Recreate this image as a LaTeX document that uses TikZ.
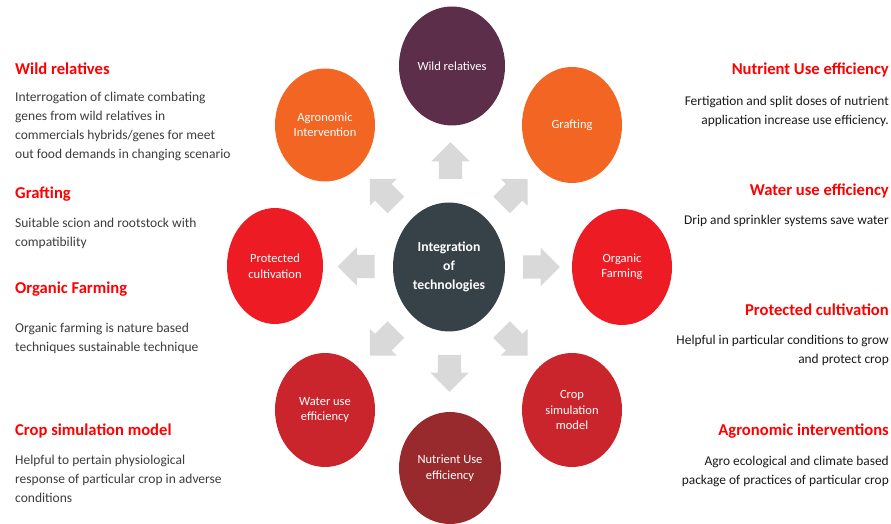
\documentclass[tikz,border=0pt]{standalone}
\usepackage{fontspec}
\setmainfont{Carlito}
\usepackage{xcolor}
\usetikzlibrary{shapes.geometric,shapes.arrows,calc}
\definecolor{techslate}{RGB}{55,65,72}
\definecolor{techplum}{RGB}{92,46,74}
\definecolor{techorange}{RGB}{242,101,34}
\definecolor{techred}{RGB}{237,28,36}
\definecolor{techdark}{RGB}{202,36,44}
\definecolor{techbrown}{RGB}{152,42,46}
\definecolor{techhead}{RGB}{255,0,0}
\definecolor{techgrey}{RGB}{217,217,217}
\definecolor{techtext}{RGB}{60,60,60}
\definecolor{techtextr}{RGB}{25,25,25}

\begin{document}
\begin{tikzpicture}[x=1pt,y=1pt,
    circ/.style={ellipse,inner sep=0,text=white,align=center,font=\fontsize{12.5}{15.5}\selectfont},
    blockarrow/.style={single arrow,fill=techgrey,draw=none,inner xsep=0,inner ysep=11.5pt,minimum height=37pt,single arrow head extend=7.5pt},
    headl/.style={anchor=base west,inner sep=0,text=techhead,font=\bfseries\fontsize{16.6}{19}\selectfont},
    headr/.style={anchor=base east,inner sep=0,text=techhead,font=\bfseries\fontsize{16.6}{19}\selectfont},
    bodyl/.style={anchor=north west,inner sep=0,align=left,text=techtext,font=\fontsize{13.5}{19}\selectfont},
    bodyr/.style={anchor=north east,inner sep=0,align=right,text=techtextr,font=\fontsize{13.4}{19}\selectfont}]
    \useasboundingbox (0,0) rectangle (891,524);

    % centre and the eight technologies
    \node[circ,fill=techslate,minimum width=112pt,minimum height=129pt,font=\bfseries\fontsize{13.7}{19}\selectfont] (centre) at (449,257) {Integration\\of\\technologies};
    \node[circ,fill=techplum,minimum width=106pt,minimum height=119pt] (wild) at (452,458) {Wild relatives};
    \node[circ,fill=techorange,minimum width=100pt,minimum height=113pt] (agro) at (325,399) {Agronomic\\Intervention};
    \node[circ,fill=techorange,minimum width=100pt,minimum height=116pt] (graft) at (572,399) {Grafting};
    \node[circ,fill=techred,minimum width=96pt,minimum height=116pt] (protect) at (275,258) {Protected\\cultivation};
    \node[circ,fill=techred,minimum width=100pt,minimum height=116pt] (organic) at (622,257) {Organic\\Farming};
    \node[circ,fill=techdark,minimum width=100pt,minimum height=114pt] (water) at (325,114) {Water use\\efficiency};
    \node[circ,fill=techdark,minimum width=100pt,minimum height=114pt] (cropsim) at (572,114) {Crop\\simulation\\model};
    \node[circ,fill=techbrown,minimum width=102pt,minimum height=112pt] (nutrient) at (450,56) {Nutrient Use\\efficiency};

    % grey arrows from the centre
    \foreach \n/\a in {wild/90,graft/45,organic/0,cropsim/-45,nutrient/-90,water/-135,protect/180,agro/135}
        \node[blockarrow,rotate=\a] (arr-\n) at ($(centre)!0.5!(\n)$) {};

    % left column
    \node[headl] (wildhead) at (15,449) {Wild relatives};
    \node[bodyl] (wildtext) at (15,432) {Interrogation of climate combating\\genes from wild relatives in\\commercials hybrids/genes for meet\\out food demands in changing scenario};
    \node[headl] (grafthead) at (15,325) {Grafting};
    \node[bodyl] (grafttext) at (15,306) {Suitable scion and rootstock with\\compatibility};
    \node[headl] (organichead) at (15,230) {Organic Farming};
    \node[bodyl] (organictext) at (15,201) {Organic farming is nature based\\techniques sustainable technique};
    \node[headl] (cropsimhead) at (15,88) {Crop simulation model};
    \node[bodyl] (cropsimtext) at (15,69) {Helpful to pertain physiological\\response of particular crop in adverse\\conditions};

    % right column
    \node[headr] (nutrienthead) at (889,449) {Nutrient Use efficiency};
    \node[bodyr] (nutrienttext) at (889,428) {Fertigation and split doses of nutrient\\application increase use efficiency.};
    \node[headr] (waterhead) at (889,328) {Water use efficiency};
    \node[bodyr] (watertext) at (889,309) {Drip and sprinkler systems save water};
    \node[headr] (protecthead) at (889,208) {Protected cultivation};
    \node[bodyr] (protecttext) at (889,189) {Helpful in particular conditions to grow\\and protect crop};
    \node[headr] (agrohead) at (889,88) {Agronomic interventions};
    \node[bodyr] (agrotext) at (889,68) {Agro ecological and climate based\\package of practices of particular crop};
\end{tikzpicture}
\end{document}
